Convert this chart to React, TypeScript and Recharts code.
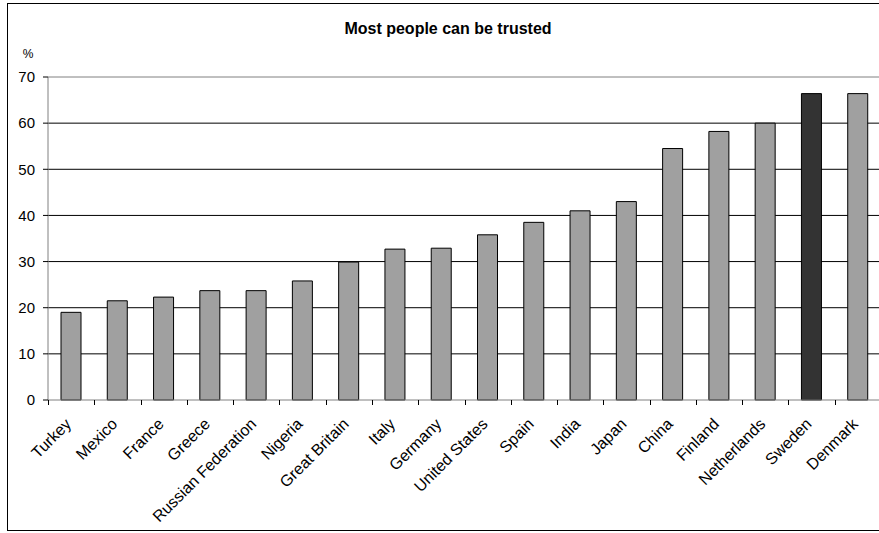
import React from 'react';
import { BarChart, Bar, XAxis, YAxis, CartesianGrid, Cell, ReferenceLine } from 'recharts';

const countries = [
  'Turkey', 'Mexico', 'France', 'Greece', 'Russian Federation', 'Nigeria', 'Great Britain',
  'Italy', 'Germany', 'United States', 'Spain', 'India', 'Japan', 'China', 'Finland',
  'Netherlands', 'Sweden', 'Denmark',
];
const trusted = [19.0, 21.5, 22.3, 23.7, 23.7, 25.8, 29.9, 32.7, 32.9, 35.8, 38.5, 41.0, 43.0, 54.5, 58.2, 60.0, 66.4, 66.4];
const yTicks = [0, 10, 20, 30, 40, 50, 60, 70];
const highlight = 'Sweden';

const data = countries.map((name, i) => ({ name, value: trusted[i] }));

const FONT = 'Arial, "Liberation Sans", sans-serif';
const CHART_W = 890;
const CHART_H = 533;
const MARGIN = { top: 77, right: CHART_W - 881, left: 8, bottom: 13 };
const Y_W = 40;
const BAND = (CHART_W - MARGIN.left - Y_W - MARGIN.right) / countries.length;

// labels hang off the category centre; tick marks sit between categories
const CategoryTick = ({ x, y, payload, index }: any) => {
  const axisY = y - 8;
  const left = Math.round(x - BAND / 2) + 0.5;
  const right = Math.round(x + BAND / 2) + 0.5;
  const ax = x + 1;
  const ay = axisY + 25;
  return (
    <g>
      <line x1={left} y1={axisY} x2={left} y2={axisY + 5} stroke="#000" strokeWidth={1} />
      {index === countries.length - 1 && (
        <line x1={right} y1={axisY} x2={right} y2={axisY + 5} stroke="#000" strokeWidth={1} />
      )}
      <text
        x={ax}
        y={ay}
        transform={`rotate(-45, ${ax}, ${ay})`}
        textAnchor="end"
        fontSize={16}
        fontFamily={FONT}
        fill="#000"
      >
        {payload.value}
      </text>
    </g>
  );
};

export default function App() {
  return (
    <div style={{ position: 'absolute', left: 0, top: 0, width: 879, height: 533, overflow: 'hidden', background: '#fff' }}>
      <div style={{ position: 'absolute', left: 7, top: 3, width: 900, height: 528, border: '1px solid #000', boxSizing: 'border-box' }} />
      <BarChart width={CHART_W} height={CHART_H} data={data} margin={MARGIN} style={{ position: 'absolute', left: 0, top: 0 }}>
        <text x={448} y={34} textAnchor="middle" fontSize={16} fontWeight="bold" fontFamily={FONT} fill="#000">
          Most people can be trusted
        </text>
        <text x={28} y={58} textAnchor="middle" fontSize={12} fontFamily={FONT} fill="#000">%</text>
        <CartesianGrid vertical={false} stroke="#000" horizontalValues={[10, 20, 30, 40, 50, 60]} />
        <ReferenceLine y={70} stroke="#808080" />
        <XAxis
          dataKey="name"
          interval={0}
          height={120}
          tickLine={false}
          tickSize={8}
          tickMargin={0}
          axisLine={{ stroke: '#808080' }}
          tick={<CategoryTick />}
        />
        <YAxis
          width={Y_W}
          domain={[0, 70]}
          ticks={yTicks}
          interval={0}
          tickSize={5}
          tickMargin={8}
          axisLine={{ stroke: '#808080' }}
          tickLine={{ stroke: '#000' }}
          tick={{ fontSize: 15, fontFamily: FONT, fill: '#000' }}
        />
        <Bar dataKey="value" barSize={20} stroke="#000" strokeWidth={1} isAnimationActive={false}>
          {data.map((d) => (
            <Cell key={d.name} fill={d.name === highlight ? '#333333' : '#a0a0a0'} />
          ))}
        </Bar>
      </BarChart>
    </div>
  );
}
